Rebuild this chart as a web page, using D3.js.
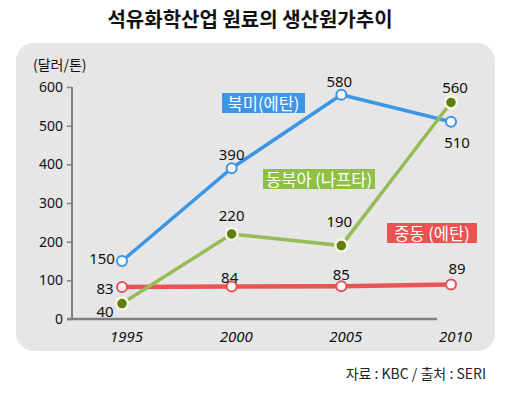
<!DOCTYPE html>
<html>
<head>
<meta charset="utf-8">
<script src="https://d3js.org/d3.v7.min.js"></script>
<style>
  body { margin: 0; background: #fff; }
  svg text { font-family: "Noto Sans CJK KR", "Noto Sans", sans-serif; }
  .num { font-family: "Noto Sans", "DejaVu Sans", sans-serif; font-size: 15px; fill: #111; }
</style>
</head>
<body>
<script>
var years = ["1995", "2000", "2005", "2010"];
var yTicks = [0, 100, 200, 300, 400, 500, 600];
var northAmerica = [150, 390, 580, 510];
var northeastAsia = [40, 220, 190, 560];
var middleEast = [83, 84, 85, 89];
var seriesNames = ["북미(에탄)", "동북아 (나프타)", "중동 (에탄)"];

var width = 511, height = 393;
var svg = d3.select("body").append("svg")
  .attr("width", width)
  .attr("height", height);

// title
svg.append("text")
  .attr("x", 250).attr("y", 27)
  .attr("text-anchor", "middle")
  .style("font-size", "20px").style("font-weight", "bold")
  .attr("fill", "#111")
  .text("석유화학산업 원료의 생산원가추이");

// panel
svg.append("rect")
  .attr("x", 16).attr("y", 43)
  .attr("width", 479).attr("height", 308)
  .attr("rx", 18)
  .attr("fill", "#e6e6e6");

svg.append("text")
  .attr("x", 33).attr("y", 70)
  .style("font-size", "14px").attr("fill", "#111")
  .text("(달러/톤)");

var x = d3.scalePoint().domain(years).range([122, 451]);
var y = d3.scaleLinear().domain([0, 600]).range([319, 87]);

// y axis
var yAxis = svg.append("g")
  .attr("transform", "translate(72,0)")
  .call(d3.axisLeft(y).tickValues(yTicks).tickSize(5).tickPadding(4));
yAxis.select(".domain").attr("stroke", "#808080").attr("stroke-width", 2)
  .attr("d", "M0," + y(600) + "V" + y(0));
yAxis.selectAll(".tick line").attr("stroke", "#808080").attr("stroke-width", 1.5);
yAxis.selectAll(".tick text").attr("class", "num").style("font-size", "14px").attr("fill", "#111");

// x axis
var xAxis = svg.append("g")
  .attr("transform", "translate(0," + y(0) + ")")
  .call(d3.axisBottom(x).tickSize(0).tickPadding(12));
xAxis.select(".domain").attr("stroke", "#808080").attr("stroke-width", 2.5)
  .attr("d", "M67,0H437");
xAxis.selectAll(".tick text")
  .attr("class", "num")
  .style("font-size", "15px").style("font-style", "italic")
  .attr("dx", 4)
  .attr("fill", "#111");

var series = [
  { name: seriesNames[0], values: northAmerica, color: "#3d95e6", width: 3.5, filled: false,
    offs: [[-20, -3], [0, -14], [-2, -14], [6, 20]] },
  { name: seriesNames[2], values: middleEast, color: "#ea5353", width: 4.5, filled: false,
    offs: [[-17, 1], [-2, -10], [0, -12], [6, -17]] },
  { name: seriesNames[1], values: northeastAsia, color: "#97bb55", width: 3.5, filled: true,
    offs: [[-17, 7], [0, -19], [-2, -25], [4, -15]] }
];

var line = d3.line()
  .x(function(d, i) { return x(years[i]); })
  .y(function(d) { return y(d); });

series.forEach(function(s) {
  svg.append("path")
    .attr("d", line(s.values))
    .attr("fill", "none")
    .attr("stroke", s.color)
    .attr("stroke-width", s.width);
});

series.forEach(function(s) {
  svg.selectAll(null).data(s.values).enter().append("circle")
    .attr("cx", function(d, i) { return x(years[i]); })
    .attr("cy", function(d) { return y(d); })
    .attr("r", s.filled ? 6 : 5)
    .attr("fill", s.filled ? "#5e7f10" : "#f6f8fb")
    .attr("stroke", s.filled ? "#f7f7e6" : s.color)
    .attr("stroke-width", s.filled ? 2.5 : 2);

  svg.selectAll(null).data(s.values).enter().append("text")
    .attr("class", "num")
    .attr("x", function(d, i) { return x(years[i]) + s.offs[i][0]; })
    .attr("y", function(d, i) { return y(d) + s.offs[i][1]; })
    .attr("text-anchor", "middle")
    .attr("dominant-baseline", "central")
    .text(function(d) { return d; });
});

// series name boxes
var tags = [
  { text: seriesNames[0], color: "#3d95e6", x: 222, y: 93, w: 83 },
  { text: seriesNames[1], color: "#8fbf46", x: 263, y: 169, w: 112 },
  { text: seriesNames[2], color: "#eb5252", x: 387, y: 223, w: 90 }
];
tags.forEach(function(t) {
  svg.append("rect")
    .attr("x", t.x).attr("y", t.y)
    .attr("width", t.w).attr("height", 20)
    .attr("fill", t.color);
  svg.append("text")
    .attr("x", t.x + t.w / 2).attr("y", t.y + 10)
    .attr("text-anchor", "middle")
    .attr("dominant-baseline", "central")
    .style("font-size", "16.5px")
    .attr("fill", "#fff")
    .text(t.text);
});

svg.append("text")
  .attr("x", 486).attr("y", 379)
  .attr("text-anchor", "end")
  .style("font-size", "14px").attr("fill", "#222")
  .text("자료 : KBC / 출처 : SERI");
</script>
</body>
</html>
